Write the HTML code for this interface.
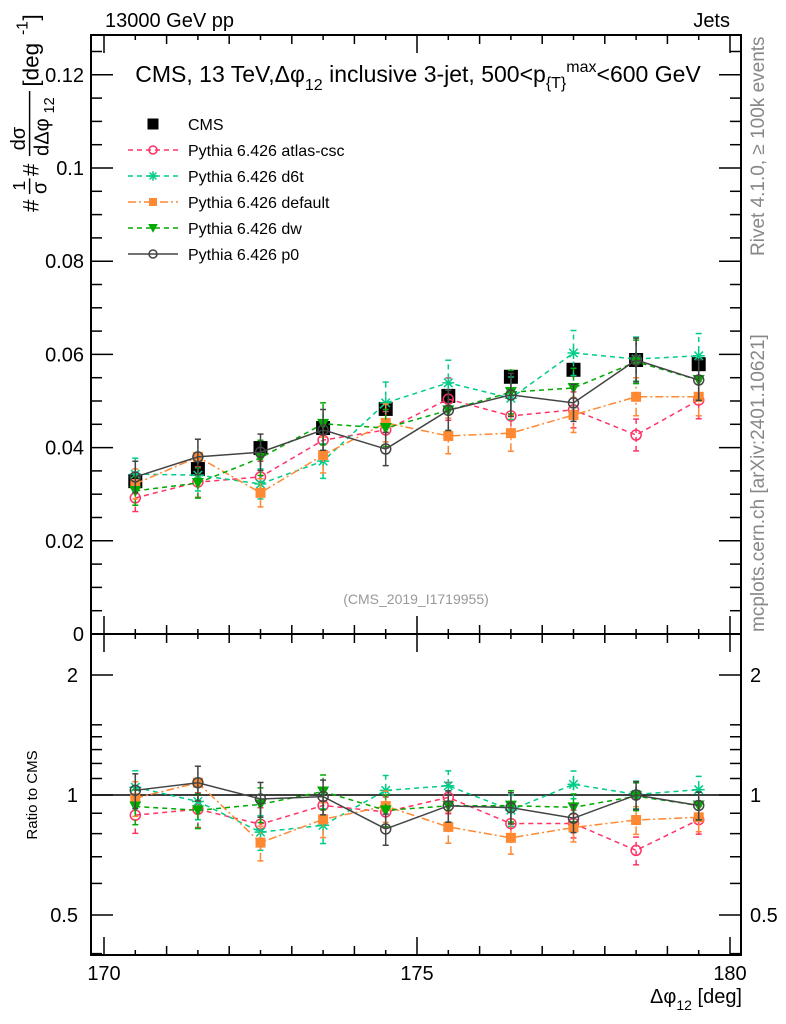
<!DOCTYPE html>
<html><head><meta charset="utf-8">
<style>
html,body{margin:0;padding:0;background:#fff;}
svg{display:block;font-family:"Liberation Sans",sans-serif;}
</style></head>
<body>
<svg id="chart" width="786" height="1024" viewBox="0 0 786 1024" xmlns="http://www.w3.org/2000/svg">
<text x="105" y="27" font-size="20">13000 GeV pp</text>
<text x="730" y="27" font-size="20" text-anchor="end">Jets</text>
<text x="418" y="82" font-size="23" text-anchor="middle">CMS, 13 TeV,Δφ<tspan font-size="16" dy="8">12</tspan><tspan dy="-8"> inclusive 3-jet, 500&lt;p</tspan><tspan font-size="16" dy="6">{T}</tspan><tspan font-size="16" dy="-16">max</tspan><tspan dy="10">&lt;600 GeV</tspan></text>
<text transform="translate(764,256) rotate(-90)" font-size="19" fill="#888">Rivet 4.1.0, ≥ 100k events</text>
<text transform="translate(764,632) rotate(-90)" font-size="19" fill="#888">mcplots.cern.ch [arXiv:2401.10621]</text>
<text x="416" y="604" font-size="14" fill="#999" text-anchor="middle">(CMS_2019_I1719955)</text>
<g transform="translate(-4,212) rotate(-90) scale(1.12)" font-size="20">
<text x="0" y="38">#</text>
<text x="19" y="26" font-size="16">1</text>
<line x1="16" x2="30" y1="30" y2="30" stroke="#000" stroke-width="1.3"/>
<text x="16" y="45" font-size="18">σ</text>
<text x="32" y="38">#</text>
<text x="55" y="26" font-size="18">dσ</text>
<line x1="50" x2="108" y1="30" y2="30" stroke="#000" stroke-width="1.3"/>
<text x="50" y="47" font-size="18">dΔφ</text>
<text x="88" y="52" font-size="13">12</text>
<text x="112" y="38">[deg</text>
<text x="158" y="28" font-size="14">-1</text>
<text x="171" y="38">]</text>
</g>
<text x="37" y="795" font-size="15" transform="rotate(-90 37 795)" text-anchor="middle">Ratio to CMS</text>
<text x="742" y="1003" font-size="20" text-anchor="end">Δφ<tspan font-size="14" dy="7">12</tspan><tspan dy="-7"> [deg]</tspan></text>
<g id="main"></g><g id="ratio"></g><g id="legend"></g>
</svg>
<script>
const bins = [170.5,171.5,172.5,173.5,174.5,175.5,176.5,177.5,178.5,179.5];
const cmsVals = [0.0328,0.0354,0.0399,0.0442,0.0483,0.0511,0.0552,0.0567,0.0588,0.0579];
const cmsErr = [0.0012,0.0012,0.0013,0.0014,0.0015,0.0015,0.0016,0.0016,0.0017,0.0017];
const atlasVals = [0.0292,0.0326,0.0337,0.0416,0.0438,0.0504,0.0468,0.0481,0.0427,0.0502];
const d6tVals = [0.0343,0.0341,0.0322,0.0371,0.0496,0.0539,0.0506,0.0603,0.0590,0.0597];
const defaultVals = [0.0322,0.0380,0.0303,0.0384,0.0453,0.0425,0.0431,0.0470,0.0509,0.0509];
const dwVals = [0.0307,0.0324,0.0378,0.0451,0.0442,0.0480,0.0519,0.0528,0.0584,0.0545];
const p0Vals = [0.0337,0.0380,0.0390,0.0438,0.0397,0.0480,0.0513,0.0496,0.0588,0.0545];
const mcRelErr = [0.10,0.10,0.10,0.10,0.09,0.09,0.09,0.08,0.08,0.08];
const yTicks = [0,0.02,0.04,0.06,0.08,0.1,0.12];
const yTickLabels = ["0","0.02","0.04","0.06","0.08","0.1","0.12"];
const rTicks = [0.5,1,2];
const rTickLabels = ["0.5","1","2"];
const xTicks = [170,175,180];
const xTickLabels = ["170","175","180"];

const NS="http://www.w3.org/2000/svg";
const L=91,R=741,T=35,MB=634,RB=955;
const X=v=>104+(v-170)*62.6;
const Y=v=>634-v*4660;
const RY=r=>795-Math.log10(r)*398.6;
function mk(p,tag,a){const e=document.createElementNS(NS,tag);for(const k in a)e.setAttribute(k,a[k]);p.appendChild(e);return e;}
const main=document.getElementById('main'),ratio=document.getElementById('ratio'),leg=document.getElementById('legend');

let f1=mk(main,'rect',{x:L,y:T,width:R-L,height:MB-T,fill:'none',stroke:'#000','stroke-width':2});


let f2=mk(ratio,'rect',{x:L,y:MB,width:R-L,height:RB-MB,fill:'none',stroke:'#000','stroke-width':2});



for(let v=0;v<=0.1281;v+=0.005){const y=Y(v);if(y<T)break;const maj=Math.abs(v/0.02-Math.round(v/0.02))<1e-6;const len=maj?22:11;
 mk(main,'line',{x1:L,x2:L+len,y1:y,y2:y,stroke:'#000','stroke-width':1.5});
 mk(main,'line',{x1:R,x2:R-len,y1:y,y2:y,stroke:'#000','stroke-width':1.5});}
yTicks.forEach((v,i)=>{const t=mk(main,'text',{x:84,y:Y(v)+7,'font-size':20,'text-anchor':'end'});t.textContent=yTickLabels[i];
 
 });
[0.4,0.5,0.6,0.7,0.8,0.9,1,1.1,1.2,1.3,1.4,1.5,2].forEach(v=>{const y=RY(v);const maj=rTicks.includes(v);const len=maj?22:11;
 mk(ratio,'line',{x1:L,x2:L+len,y1:y,y2:y,stroke:'#000','stroke-width':1.5});
 mk(ratio,'line',{x1:R,x2:R-len,y1:y,y2:y,stroke:'#000','stroke-width':1.5});});
rTicks.forEach((v,i)=>{const t=mk(ratio,'text',{x:78,y:RY(v)+7,'font-size':20,'text-anchor':'end'});t.textContent=rTickLabels[i];
 
 
 const t2=mk(ratio,'text',{x:750,y:RY(v)+7,'font-size':20});t2.textContent=rTickLabels[i];
 
 });
for(let v=170;v<=180.01;v+=0.5){const x=X(v);const maj=Math.abs(v%5)<1e-6;const len=maj?18:(Math.abs(v%1)<1e-6?9:5);
 [[MB,-1],[T,1],[RB,-1],[MB,1]].forEach(([y0,d])=>mk(main,'line',{x1:x,x2:x,y1:y0,y2:y0+d*len,stroke:'#000','stroke-width':1.5}));}
xTicks.forEach((v,i)=>{const t=mk(ratio,'text',{x:X(v),y:980,'font-size':20,'text-anchor':'middle'});t.textContent=xTickLabels[i];
 
 });
mk(ratio,'line',{x1:L,x2:R,y1:RY(1),y2:RY(1),stroke:'#000','stroke-width':1.5});

const series=[
 {name:'atlas-csc',vals:atlasVals,c:'#ff3366',dash:'5,4',m:'ocirc'},
 {name:'d6t',vals:d6tVals,c:'#00cc88',dash:'5,4',m:'star'},
 {name:'default',vals:defaultVals,c:'#ff8833',dash:'8,3,2,3',m:'sq'},
 {name:'dw',vals:dwVals,c:'#00aa00',dash:'5,4',m:'tri'},
 {name:'p0',vals:p0Vals,c:'#444',dash:'',m:'ocirc'}];

function marker(g,m,x,y,c,s){
 if(m==='ocirc')mk(g,'circle',{cx:x,cy:y,r:5*s,fill:'none',stroke:c,'stroke-width':1.5});
 else if(m==='sq')mk(g,'rect',{x:x-5*s,y:y-5*s,width:10*s,height:10*s,fill:c});
 else if(m==='tri')mk(g,'path',{d:`M${x-6*s},${y-5*s}L${x+6*s},${y-5*s}L${x},${y+6*s}Z`,fill:c});
 else if(m==='star'){for(let a=0;a<4;a++){const an=a*Math.PI/4;mk(g,'line',{x1:x-6*s*Math.cos(an),y1:y-6*s*Math.sin(an),x2:x+6*s*Math.cos(an),y2:y+6*s*Math.sin(an),stroke:c,'stroke-width':1.5});}}
 else if(m==='bsq')mk(g,'rect',{x:x-7*s,y:y-7*s,width:14*s,height:14*s,fill:c});
}
function drawSeries(parent,s,vals,errs,yf,isRatio){
 const g=mk(parent,'g',{});
 
 
 const pts=bins.map((b,i)=>X(b)+','+yf(vals[i])).join(' ');
 mk(g,'polyline',{points:pts,fill:'none',stroke:s.c,'stroke-width':1.5,'stroke-dasharray':s.dash});
 bins.forEach((b,i)=>{const x=X(b);const lo=yf(vals[i]-errs[i]),hi=yf(vals[i]+errs[i]);
  mk(g,'line',{x1:x,x2:x,y1:lo,y2:hi,stroke:s.c,'stroke-width':1.5,'stroke-dasharray':s.dash});
  mk(g,'line',{x1:x-3,x2:x+3,y1:lo,y2:lo,stroke:s.c,'stroke-width':1.5});
  mk(g,'line',{x1:x-3,x2:x+3,y1:hi,y2:hi,stroke:s.c,'stroke-width':1.5});
  marker(g,s.m,x,yf(vals[i]),s.c,1);});
}
const cg=mk(main,'g',{});


bins.forEach((b,i)=>{const x=X(b);mk(cg,'line',{x1:x,x2:x,y1:Y(cmsVals[i]-cmsErr[i]),y2:Y(cmsVals[i]+cmsErr[i]),stroke:'#000','stroke-width':1.5});marker(cg,'bsq',x,Y(cmsVals[i]),'#000',1);});
series.forEach(s=>{
 drawSeries(main,s,s.vals,s.vals.map((v,i)=>v*mcRelErr[i]),Y,false);
 const r=s.vals.map((v,i)=>v/cmsVals[i]);
 drawSeries(ratio,s,r,r.map((v,i)=>v*mcRelErr[i]),RY,true);
});
const ly=[124,150,176,202,228,254];
let e0=mk(leg,'g',{});


marker(e0,'sq',153,ly[0],'#000',1.1);
let t0=mk(e0,'text',{x:188,y:ly[0]+6,'font-size':16});t0.textContent='CMS';
series.forEach((s,i)=>{const g=mk(leg,'g',{});
 
 
 const y=ly[i+1];
 mk(g,'line',{x1:128,x2:178,y1:y,y2:y,stroke:s.c,'stroke-width':1.5,'stroke-dasharray':s.dash});
 marker(g,s.m,153,y,s.c,0.8);
 const t=mk(g,'text',{x:188,y:y+6,'font-size':16});t.textContent='Pythia 6.426 '+s.name;});
</script>
</body></html>
